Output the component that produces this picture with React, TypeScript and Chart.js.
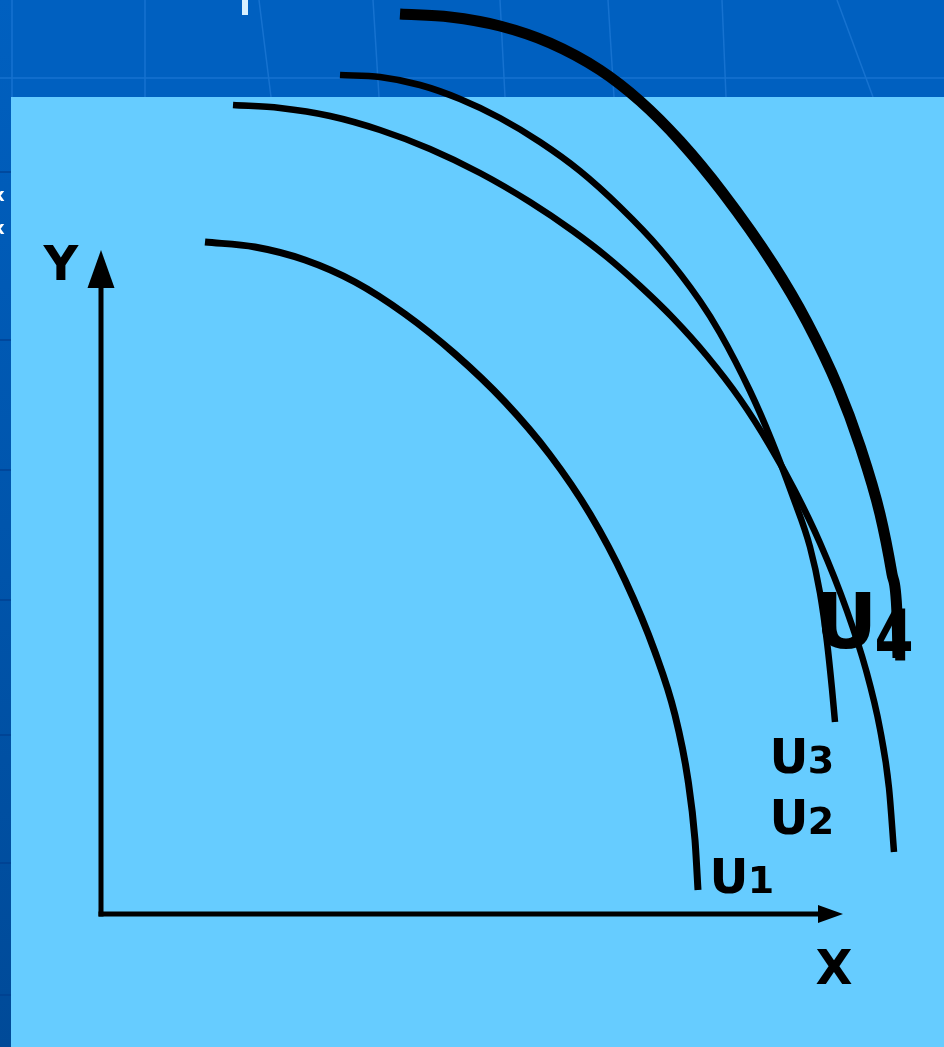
import React, { useEffect, useRef } from "react";
import { Chart, registerables } from "chart.js";

Chart.register(...registerables);

// Visible extent of the plane (data units); the drawn axes start at 0,0
const xAxisMin = -10.1;
const xAxisMax = 84.3;
const yAxisMin = -13.3;
const yAxisMax = 91.4;
const xAxisEnd = 74.1;
const yAxisEnd = 66.4;

// Indifference curves
const u1X = [10.4, 15.4, 20.4, 25.4, 30.4, 35.4, 40.4, 44.9, 48.9, 52.4, 55.4, 57.4, 58.7, 59.4, 59.7];
const u1Y = [67.2, 66.7, 65.4, 63.2, 60.0, 56.0, 51.2, 45.9, 40.0, 33.4, 26.2, 19.9, 13.4, 7.4, 2.4];

const u2X = [13.2, 17.9, 22.9, 27.9, 32.9, 37.9, 42.9, 47.2, 50.6, 53.9, 57.2, 60.6, 63.9, 66.9, 69.4, 71.9, 74.6, 76.5, 77.9, 78.8, 79.3];
const u2Y = [80.9, 80.6, 79.8, 78.4, 76.5, 74.1, 71.2, 68.3, 65.7, 62.8, 59.6, 55.8, 51.5, 46.8, 42.3, 37.1, 30.3, 24.4, 18.5, 12.6, 6.2];

const u3X = [23.9, 27.9, 31.9, 35.9, 39.9, 43.9, 47.9, 51.9, 55.9, 59.9, 61.9, 64.9, 67.0, 69.2, 70.9, 71.9, 72.6, 73.1, 73.4];
const u3Y = [83.9, 83.7, 82.9, 81.5, 79.6, 77.2, 74.3, 70.7, 66.5, 61.3, 58.1, 52.3, 47.5, 41.7, 36.7, 32.1, 27.2, 22.5, 19.2];

const u4X = [29.9, 34.9, 39.9, 44.9, 49.9, 53.9, 57.9, 62.2, 67.2, 70.6, 73.7, 75.9, 77.9, 79.1, 79.6, 79.7];
const u4Y = [90.0, 89.7, 88.8, 87.1, 84.4, 81.3, 77.3, 72.1, 65.0, 59.2, 52.7, 46.8, 40.0, 34.0, 30.0, 25.6];

const curveNames = ["U1", "U2", "U3", "U4"];
const axisLabels = ["X", "Y"];

const toPoints = (xs: number[], ys: number[]) => xs.map((x, i) => ({ x, y: ys[i] }));

const backgroundPlugin = {
  id: "slideBackground",
  beforeDraw(chart: any) {
    const { ctx, width, height } = chart;
    ctx.save();
    ctx.fillStyle = "#0060C0";
    ctx.fillRect(0, 0, width, height);
    const g = ctx.createLinearGradient(0, 0, 0, height);
    g.addColorStop(0, "#0060C0");
    g.addColorStop(1, "#004A98");
    ctx.fillStyle = g;
    ctx.fillRect(0, 0, 11, height);
    ctx.strokeStyle = "rgba(40,130,220,0.55)";
    ctx.lineWidth = 1.5;
    ctx.beginPath();
    ctx.moveTo(0, 78);
    ctx.lineTo(width, 78);
    const verts = [
      [12, 12],
      [145, 145],
      [259, 271],
      [373, 379],
      [500, 505],
      [608, 614],
      [722, 726],
      [837, 873],
    ];
    verts.forEach(([a, b]) => {
      ctx.moveTo(a, 0);
      ctx.lineTo(b, 97);
    });
    ctx.stroke();
    ctx.strokeStyle = "rgba(0,60,140,0.8)";
    ctx.beginPath();
    [172, 340, 470, 600, 735, 863, 995].forEach((yy) => {
      ctx.moveTo(0, yy);
      ctx.lineTo(11, yy);
    });
    ctx.stroke();
    ctx.fillStyle = "#66CCFF";
    ctx.fillRect(11, 97, width - 11, height - 97);
    ctx.fillStyle = "#D8F0FF";
    ctx.fillRect(242, 0, 6, 15);
    ctx.fillStyle = "#FFFFFF";
    ctx.font = "bold 18px 'DejaVu Sans'";
    ctx.textBaseline = "middle";
    ctx.fillText("x", -7, 196);
    ctx.fillText("x", -7, 229);
    ctx.restore();
  },
};

const overlayPlugin = {
  id: "axesAndLabels",
  afterDatasetsDraw(chart: any) {
    const { ctx } = chart;
    const xs = chart.scales.x;
    const ys = chart.scales.y;
    const px = (v: number) => xs.getPixelForValue(v);
    const py = (v: number) => ys.getPixelForValue(v);
    ctx.save();
    ctx.strokeStyle = "#000";
    ctx.fillStyle = "#000";
    ctx.lineWidth = 5;
    ctx.lineCap = "butt";
    const ox = px(0);
    const oy = py(0);
    const xEnd = px(xAxisEnd);
    const yEnd = py(yAxisEnd);
    // Y axis
    ctx.beginPath();
    ctx.moveTo(ox, oy + 2.5);
    ctx.lineTo(ox, yEnd + 36);
    ctx.stroke();
    ctx.beginPath();
    ctx.moveTo(ox, yEnd);
    ctx.lineTo(ox - 13.5, yEnd + 38);
    ctx.lineTo(ox + 13.5, yEnd + 38);
    ctx.closePath();
    ctx.fill();
    // X axis
    ctx.beginPath();
    ctx.moveTo(ox - 2.5, oy);
    ctx.lineTo(xEnd - 22, oy);
    ctx.stroke();
    ctx.beginPath();
    ctx.moveTo(xEnd + 1, oy);
    ctx.lineTo(xEnd - 24, oy - 9);
    ctx.lineTo(xEnd - 24, oy + 9);
    ctx.closePath();
    ctx.fill();

    ctx.textAlign = "center";
    ctx.textBaseline = "alphabetic";
    ctx.font = "bold 48px 'DejaVu Sans'";
    ctx.fillText(axisLabels[1], 61, 280);
    ctx.fillText(axisLabels[0], 834, 984);

    const drawLabel = (name: string, cx: number, base: number, uSize: number, dx: number, dSize: number, dBase: number, squeeze: number) => {
      ctx.font = `bold ${uSize}px 'DejaVu Sans'`;
      ctx.fillText(name[0], cx, base);
      ctx.save();
      ctx.translate(dx, dBase);
      ctx.scale(squeeze, 1);
      ctx.font = `bold ${dSize}px 'DejaVu Sans'`;
      ctx.fillText(name.slice(1), 0, 0);
      ctx.restore();
    };
    drawLabel(curveNames[0], 729, 893, 48, 761, 38, 893, 1);
    drawLabel(curveNames[2], 789, 773, 48, 821, 38, 773, 1);
    drawLabel(curveNames[1], 789, 834, 48, 821, 38, 834, 1);
    drawLabel(curveNames[3], 846, 648, 77, 894, 72, 660, 0.78);
    ctx.restore();
  },
};

export default function App() {
  const canvasRef = useRef<HTMLCanvasElement | null>(null);

  useEffect(() => {
    if (!canvasRef.current) return;
    const curve = (name: string, xs: number[], ys: number[], w: number) => ({
      label: name,
      data: toPoints(xs, ys),
      showLine: true,
      borderColor: "#000000",
      backgroundColor: "#000000",
      borderWidth: w,
      pointRadius: 0,
      pointHoverRadius: 0,
      cubicInterpolationMode: "monotone" as const,
      tension: 0.4,
      fill: false,
      clip: false as any,
    });
    const chart = new Chart(canvasRef.current, {
      type: "scatter",
      data: {
        datasets: [
          curve(curveNames[0], u1X, u1Y, 7),
          curve(curveNames[1], u2X, u2Y, 6.5),
          curve(curveNames[2], u3X, u3Y, 6.5),
          curve(curveNames[3], u4X, u4Y, 11),
        ],
      },
      options: {
        animation: false,
        responsive: false,
        devicePixelRatio: 1,
        layout: { padding: 0 },
        events: [],
        plugins: {
          legend: { display: false },
          tooltip: { enabled: false },
          title: { display: false },
        },
        scales: {
          x: { type: "linear", min: xAxisMin, max: xAxisMax, display: false },
          y: { type: "linear", min: yAxisMin, max: yAxisMax, display: false },
        },
      },
      plugins: [backgroundPlugin, overlayPlugin],
    });
    return () => chart.destroy();
  }, []);

  return (
    <div style={{ position: "absolute", left: 0, top: 0, width: 944, height: 1047, overflow: "hidden" }}>
      <canvas ref={canvasRef} width={944} height={1047} style={{ display: "block", width: 944, height: 1047 }} />
    </div>
  );
}
